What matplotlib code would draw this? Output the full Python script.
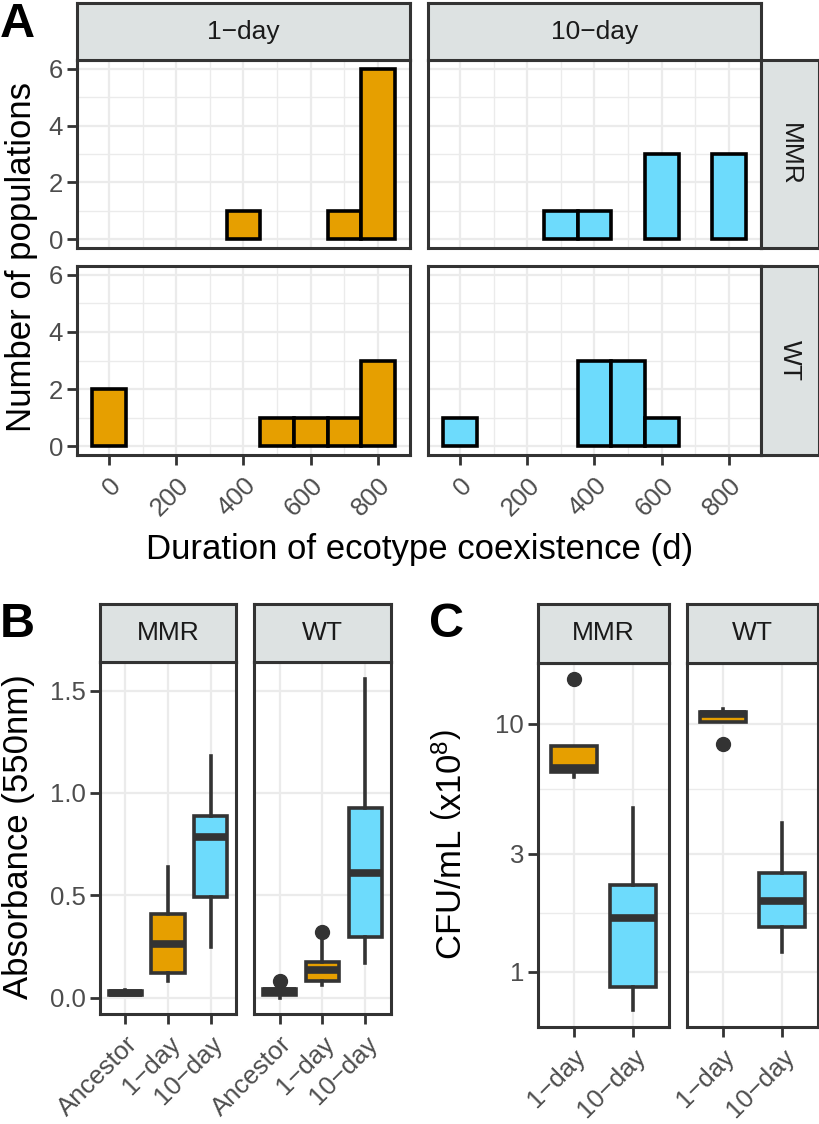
import numpy as np
import matplotlib
matplotlib.use('Agg')
import matplotlib.pyplot as plt
from matplotlib.ticker import FixedLocator, NullFormatter

W, H = 820, 1124

plt.rcParams['font.family'] = ['Liberation Sans', 'DejaVu Sans']
plt.rcParams['mathtext.fontset'] = 'custom'
plt.rcParams['mathtext.rm'] = 'Liberation Sans'
plt.rcParams['mathtext.it'] = 'Liberation Sans:italic'

ORANGE = '#E69F00'
BLUE = '#6DDBFC'
DARK = '#333333'
GRID = '#EBEBEB'
STRIP = '#DDE2E2'
TICK = '#4D4D4D'

# A: number of populations per 100-day bin of coexistence
bins = [0, 100, 200, 300, 400, 500, 600, 700, 800]
mmr_1day = [0, 0, 0, 0, 1, 0, 0, 1, 6]
mmr_10day = [0, 0, 0, 1, 1, 0, 3, 0, 3]
wt_1day = [2, 0, 0, 0, 0, 1, 1, 1, 3]
wt_10day = [1, 0, 0, 0, 3, 3, 1, 0, 0]

# B: absorbance (550nm), (whislo, q1, med, q3, whishi) per group
abs_groups = ['Ancestor', '1\u2212day', '10\u2212day']
abs_mmr = [(0.012, 0.015, 0.022, 0.030, 0.035),
           (0.083, 0.118, 0.260, 0.407, 0.637),
           (0.245, 0.490, 0.784, 0.887, 1.180)]
abs_mmr_out = [[], [], []]
abs_wt = [(0.000, 0.015, 0.030, 0.044, 0.044),
          (0.064, 0.083, 0.137, 0.176, 0.280),
          (0.167, 0.294, 0.608, 0.926, 1.559)]
abs_wt_out = [[0.083], [0.320], []]

# C: CFU/mL (x10^8)
cfu_groups = ['1\u2212day', '10\u2212day']
cfu_mmr = [(6.1, 6.4, 6.65, 8.15, 8.15),
           (0.70, 0.87, 1.65, 2.24, 4.58)]
cfu_mmr_out = [[15.2], []]
cfu_wt = [(10.15, 10.15, 10.95, 11.2, 11.5),
          (1.20, 1.52, 1.93, 2.50, 4.00)]
cfu_wt_out = [[8.3], []]

fig = plt.figure(figsize=(W / 100, H / 100), dpi=100)


def add_px(x0, y0, x1, y1):
    return fig.add_axes([x0 / W, 1 - y1 / H, (x1 - x0) / W, (y1 - y0) / H])


def frame(ax):
    for s in ax.spines.values():
        s.set_color(DARK)
        s.set_linewidth(2.2)


def strip(x0, y0, x1, y1, text, rot=0):
    ax = add_px(x0, y0, x1, y1)
    ax.set_facecolor(STRIP)
    frame(ax)
    ax.set_xticks([])
    ax.set_yticks([])
    ax.text(0.5, 0.5, text, ha='center', va='center', rotation=rot,
            fontsize=19, color='#1A1A1A', transform=ax.transAxes)


def panel(x0, y0, x1, y1, left, bottom):
    ax = add_px(x0, y0, x1, y1)
    frame(ax)
    ax.set_axisbelow(True)
    ax.tick_params(which='major', length=7, width=2, color=DARK,
                   labelsize=18.5, labelcolor=TICK, pad=3)
    ax.tick_params(which='minor', length=0)
    if not left:
        ax.tick_params(axis='y', which='both', length=0, labelleft=False)
    if not bottom:
        ax.tick_params(axis='x', which='both', length=0, labelbottom=False)
    return ax


def rot_labels(ax, labels):
    ax.set_xticklabels(labels, rotation=45, ha='right', va='top',
                       rotation_mode='anchor')
    ax.tick_params(axis='x', pad=6)


# ---------- A ----------
hist_sets = [[mmr_1day, mmr_10day], [wt_1day, wt_10day]]
rows_y = [(60, 248), (266, 455)]
cols_x = [(77, 410), (428, 761)]
colors = [ORANGE, BLUE]
for r, (y0, y1) in enumerate(rows_y):
    for c, (x0, x1) in enumerate(cols_x):
        ax = panel(x0, y0, x1, y1, c == 0, r == 1)
        counts = np.array(hist_sets[r][c])
        keep = counts > 0
        ax.bar(np.array(bins)[keep], counts[keep], width=100, color=colors[c],
               edgecolor='black', linewidth=2.6, zorder=3)
        ax.set_xlim(-95, 895)
        ax.set_ylim(-0.3, 6.3)
        ax.set_xticks([0, 200, 400, 600, 800])
        ax.xaxis.set_minor_locator(FixedLocator([100, 300, 500, 700]))
        ax.set_yticks([0, 2, 4, 6])
        ax.yaxis.set_minor_locator(FixedLocator([1, 3, 5]))
        ax.grid(which='major', color=GRID, lw=1.6)
        ax.grid(which='minor', color=GRID, lw=1.0)
        if r == 1:
            rot_labels(ax, ['0', '200', '400', '600', '800'])
strip(77, 3, 410, 60, '1\u2212day')
strip(428, 3, 761, 60, '10\u2212day')
strip(761, 60, 819, 248, 'MMR', rot=-90)
strip(761, 266, 819, 455, 'WT', rot=-90)
fig.text(22 / W, 1 - 257 / H, 'Number of populations', rotation=90,
         ha='center', va='center', fontsize=25)
fig.text(420 / W, 1 - 550 / H, 'Duration of ecotype coexistence (d)',
         ha='center', va='center', fontsize=25)


def boxes(ax, stats, outs, fills, pos):
    bs = []
    for s, o in zip(stats, outs):
        bs.append(dict(whislo=s[0], q1=s[1], med=s[2], q3=s[3], whishi=s[4],
                       fliers=o))
    art = ax.bxp(bs, positions=pos, widths=0.78, patch_artist=True,
                 showcaps=False,
                 boxprops=dict(edgecolor=DARK, linewidth=2.6),
                 whiskerprops=dict(color=DARK, linewidth=2.6),
                 medianprops=dict(color=DARK, linewidth=5.5, solid_capstyle='butt'),
                 flierprops=dict(marker='o', markerfacecolor=DARK,
                                 markeredgecolor=DARK, markersize=10))
    for b, f in zip(art['boxes'], fills):
        b.set_facecolor(f)
        b.set_zorder(3)
    for m in art['medians'] + art['whiskers'] + art['fliers']:
        m.set_zorder(4)


# ---------- B ----------
for i, (x0, x1, st, ou) in enumerate([(100, 236, abs_mmr, abs_mmr_out),
                                       (254, 391, abs_wt, abs_wt_out)]):
    ax = panel(x0, 662, x1, 1014, i == 0, True)
    boxes(ax, st, ou, ['#777777', ORANGE, BLUE], [1, 2, 3])
    ax.set_xlim(0.4, 3.6)
    ax.set_ylim(-0.08, 1.64)
    ax.set_xticks([1, 2, 3])
    rot_labels(ax, abs_groups)
    ax.set_yticks([0, 0.5, 1.0, 1.5])
    ax.set_yticklabels(['0.0', '0.5', '1.0', '1.5'])
    ax.grid(which='major', color=GRID, lw=1.6)
strip(100, 604, 236, 662, 'MMR')
strip(254, 604, 391, 662, 'WT')
fig.text(19 / W, 1 - 837 / H, 'Absorbance (550nm)', rotation=90,
         ha='center', va='center', fontsize=25)

# ---------- C ----------
for i, (x0, x1, st, ou) in enumerate([(538, 669, cfu_mmr, cfu_mmr_out),
                                       (687, 818, cfu_wt, cfu_wt_out)]):
    ax = panel(x0, 663, x1, 1027, i == 0, True)
    ax.set_yscale('log')
    boxes(ax, st, ou, [ORANGE, BLUE], [1, 2])
    ax.set_xlim(0.4, 2.6)
    ax.set_ylim(0.60, 17.6)
    ax.set_xticks([1, 2])
    rot_labels(ax, cfu_groups)
    ax.yaxis.set_major_locator(FixedLocator([1, 3, 10]))
    ax.set_yticklabels(['1', '3', '10'])
    ax.yaxis.set_minor_locator(FixedLocator([np.sqrt(3), np.sqrt(30)]))
    ax.yaxis.set_minor_formatter(NullFormatter())
    ax.tick_params(which='minor', length=0)
    if i == 1:
        ax.tick_params(axis='y', which='both', length=0, labelleft=False)
    ax.grid(which='major', color=GRID, lw=1.6)
    ax.grid(which='minor', axis='y', color=GRID, lw=1.0)
strip(538, 604, 669, 663, 'MMR')
strip(687, 604, 818, 663, 'WT')
fig.text(452 / W, 1 - 845 / H, r'CFU/mL $\left(\mathregular{x10^{8}}\right)$',
         rotation=90, ha='center', va='center', fontsize=25)

# panel letters
fig.text(0, 1 - 2 / H, 'A', fontsize=35, fontweight='bold', va='top', ha='left')
fig.text(0, 1 - 602 / H, 'B', fontsize=35, fontweight='bold', va='top', ha='left')
fig.text(429 / W, 1 - 602 / H, 'C', fontsize=35, fontweight='bold', va='top', ha='left')

fig.savefig('out.png', dpi=100)
